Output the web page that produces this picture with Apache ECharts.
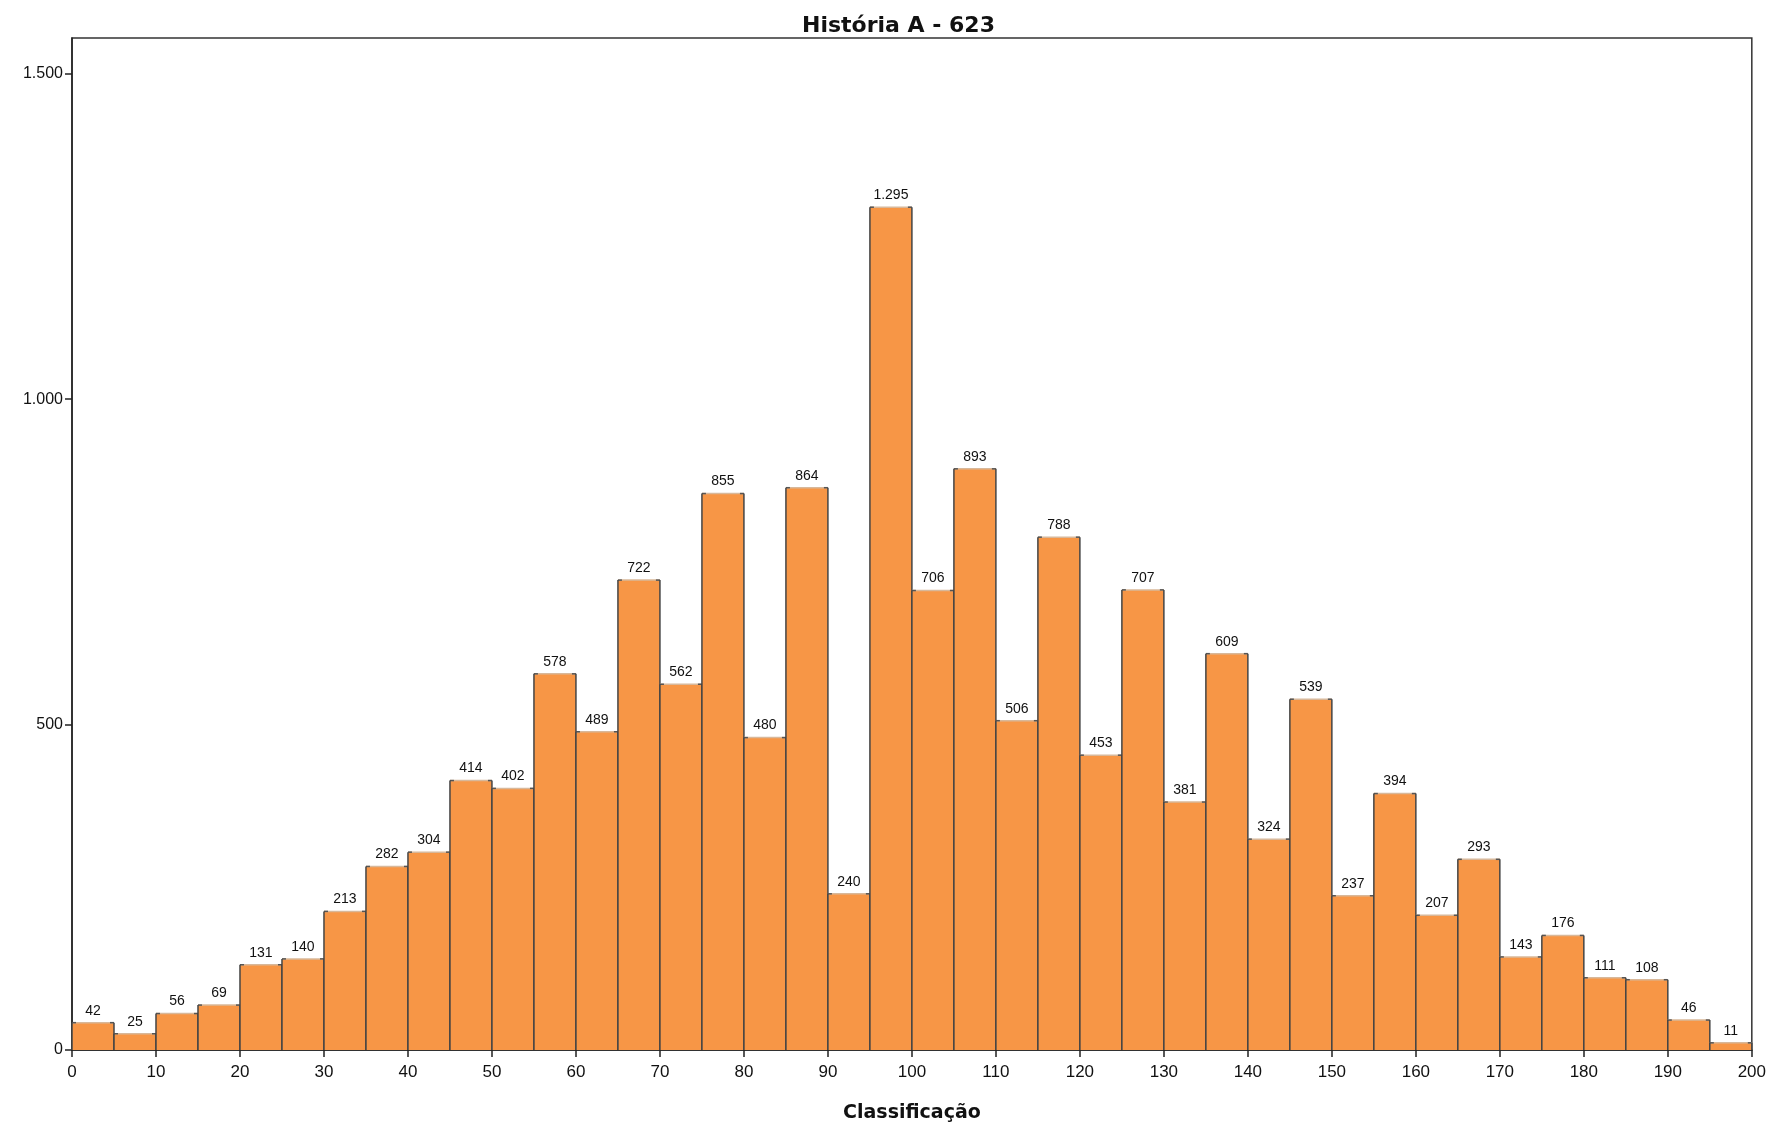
<!DOCTYPE html>
<html>
<head>
<meta charset="utf-8">
<script src="https://cdn.jsdelivr.net/npm/echarts@6/dist/echarts.min.js"></script>
<style>html,body{margin:0;padding:0;background:#fff;}#chart{width:1769px;height:1128px;}</style>
</head>
<body>
<div id="chart"></div>
<script>
const titleText = 'História A - 623';
const xAxisTitle = 'Classificação';
const binStarts = [0,5,10,15,20,25,30,35,40,45,50,55,60,65,70,75,80,85,90,95,100,105,110,115,120,125,130,135,140,145,150,155,160,165,170,175,180,185,190,195];
const binWidth = 5;
const counts = [42,25,56,69,131,140,213,282,304,414,402,578,489,722,562,855,480,864,240,1295,706,893,506,788,453,707,381,609,324,539,237,394,207,293,143,176,111,108,46,11];
const yTicks = [0,500,1000,1500];

function fmt(v){ return String(v).replace(/\B(?=(\d{3})+(?!\d))/g,'.'); }

const data = binStarts.map((s,i)=>[s, s+binWidth, counts[i]]);
const chart = echarts.init(document.getElementById('chart'));
chart.setOption({
  animation:false,
  backgroundColor:'#fff',
  title:{text:titleText,left:797,top:10,textStyle:{fontFamily:'DejaVu Sans',fontWeight:'bold',fontSize:22,color:'#111'}},
  grid:{left:72,right:17,top:38,bottom:78,show:true,borderColor:'#333',borderWidth:1.5,backgroundColor:'transparent'},
  xAxis:{type:'value',min:0,max:200,interval:10,
    name:xAxisTitle,nameLocation:'middle',nameGap:54,
    nameTextStyle:{fontFamily:'DejaVu Sans',fontWeight:'bold',fontSize:19,color:'#111'},
    axisLine:{show:true,onZero:false,lineStyle:{color:'#222',width:1.5}},
    axisTick:{show:true,length:7,lineStyle:{color:'#222',width:1.5}},
    axisLabel:{fontFamily:'Liberation Sans',fontSize:17,color:'#111',margin:14},
    splitLine:{show:false}},
  yAxis:{type:'value',min:0,max:1555,interval:500,
    axisLine:{show:true,lineStyle:{color:'#222',width:1.5}},
    axisTick:{show:true,length:7,lineStyle:{color:'#222',width:1.5}},
    axisLabel:{fontFamily:'Liberation Sans',fontSize:16,color:'#111',margin:9,showMaxLabel:false,
      formatter:v=>yTicks.indexOf(v)>=0?fmt(v):''},
    splitLine:{show:false}},
  series:[{
    type:'custom',
    data:data,
    encode:{x:[0,1],y:2},
    renderItem:function(params,api){
      const s=api.value(0), e=api.value(1), v=api.value(2);
      const p0=api.coord([s,v]); const p1=api.coord([e,0]);
      const x0=p0[0], x1=p1[0], yt=p0[1], yb=p1[1];
      return {type:'group',children:[
        {type:'rect',shape:{x:x0,y:yt,width:x1-x0,height:yb-yt},style:{fill:'#F79646'}},
        {type:'line',shape:{x1:x0,y1:yt,x2:x1,y2:yt},style:{stroke:'#d8b89a',lineWidth:1.5}},
        {type:'line',shape:{x1:x0,y1:yt,x2:x0+4,y2:yt},style:{stroke:'#555',lineWidth:1.5}},
        {type:'line',shape:{x1:x1-4,y1:yt,x2:x1,y2:yt},style:{stroke:'#555',lineWidth:1.5}},
        {type:'line',shape:{x1:x0,y1:yt,x2:x0,y2:yb},style:{stroke:'#444',lineWidth:1.5}},
        {type:'line',shape:{x1:x1,y1:yt,x2:x1,y2:yb},style:{stroke:'#444',lineWidth:1.5}},
        {type:'text',style:{text:fmt(v),x:(x0+x1)/2,y:yt-5,textAlign:'center',textVerticalAlign:'bottom',
          fontFamily:'Liberation Sans',fontSize:14,fill:'#111'}}
      ]};
    }
  }]
});
</script>
</body>
</html>
